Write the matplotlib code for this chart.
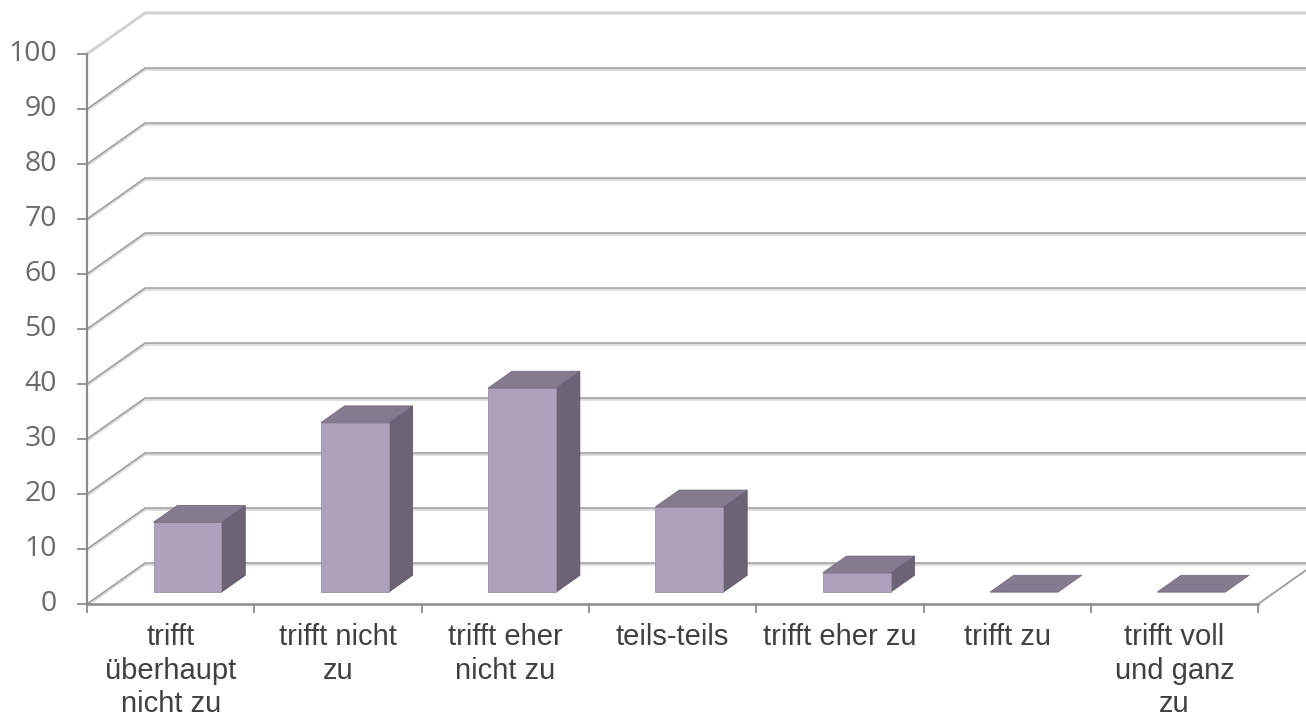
import matplotlib
matplotlib.use("Agg")
import matplotlib.pyplot as plt
from matplotlib.patches import Polygon

categories = [
    "trifft\nüberhaupt\nnicht zu",
    "trifft nicht\nzu",
    "trifft eher\nnicht zu",
    "teils-teils",
    "trifft eher zu",
    "trifft zu",
    "trifft voll\nund ganz\nzu",
]
values = [12.7, 30.8, 37.1, 15.5, 3.5, 0, 0]
yticks = list(range(0, 101, 10))

# pseudo-3D projection: depth shifts points right and up (data units)
DX = 0.347
DY = 7.45
F0, F1 = 0.29, 0.70   # bar depth range
BAR_W = 0.406

FRONT = "#ada1bb"
SIDE = "#6c6377"
TOP = "#857b8f"
GRID = "#9c9c9c"
SHADOW = "#dadada"

fig = plt.figure(figsize=(13.06, 7.18), dpi=100)
ax = fig.add_axes([0, 0, 1, 1])
ax.set_xlim(-87 / 167.3, (1306 - 87) / 167.3)
ax.set_ylim(-114 / 5.5, 604 / 5.5)
ax.axis("off")

n = len(categories)

# wall gridlines (left wall diagonal + back wall horizontal)
for v in yticks:
    top = v == 100
    col = "#d2d2d2" if top else GRID
    lw = 2.2 if top else 1.1
    if not top:
        ax.plot([0, DX, n + DX + 1], [v - 0.3, v + DY - 0.3, v + DY - 0.3],
                color=SHADOW, lw=1.6, zorder=1, solid_capstyle="butt")
    ax.plot([0, DX, n + DX + 1], [v, v + DY, v + DY], color=col, lw=lw,
            zorder=2, solid_capstyle="butt")

# floor right edge
ax.plot([n, n + DX], [0, DY], color=GRID, lw=1.3, zorder=2)

# value axis with ticks
ax.plot([0, 0], [0, 100], color="#8c8c8c", lw=1.6, zorder=3)
for v in yticks:
    ax.plot([-0.055, 0], [v, v], color="#8c8c8c", lw=1.3, zorder=3)
    ax.text(-0.18, v, str(v), ha="right", va="center", fontsize=20.5,
            family="Open Sans", color="#6a6a6a")

# category axis (floor front edge) with ticks
ax.plot([0, n], [0, 0], color="#8c8c8c", lw=1.8, zorder=3)
for i in range(n + 1):
    ax.plot([i, i], [0, -1.5], color="#8c8c8c", lw=1.3, zorder=3)

# bars
for i, v in enumerate(values):
    xl = i + 0.5 - BAR_W / 2
    xr = i + 0.5 + BAR_W / 2
    front = [(xl + F0 * DX, F0 * DY), (xr + F0 * DX, F0 * DY),
             (xr + F0 * DX, v + F0 * DY), (xl + F0 * DX, v + F0 * DY)]
    side = [(xr + F0 * DX, F0 * DY), (xr + F1 * DX, F1 * DY),
            (xr + F1 * DX, v + F1 * DY), (xr + F0 * DX, v + F0 * DY)]
    topf = [(xl + F0 * DX, v + F0 * DY), (xr + F0 * DX, v + F0 * DY),
            (xr + F1 * DX, v + F1 * DY), (xl + F1 * DX, v + F1 * DY)]
    if v > 0:
        ax.add_patch(Polygon(side, closed=True, fc=SIDE, ec="#5e566a",
                             lw=0.6, zorder=5))
        ax.add_patch(Polygon(front, closed=True, fc=FRONT, ec="#9a8fa8",
                             lw=0.6, zorder=5))
    ax.add_patch(Polygon(topf, closed=True, fc=TOP, ec="#746a80",
                         lw=0.6, zorder=6))

# category labels
for i, lab in enumerate(categories):
    ax.text(i + 0.5, -3.5, lab, ha="center", va="top", fontsize=21,
            family="Liberation Sans", color="#404040", linespacing=1.24)

fig.savefig("out.png", dpi=100, facecolor="white")
